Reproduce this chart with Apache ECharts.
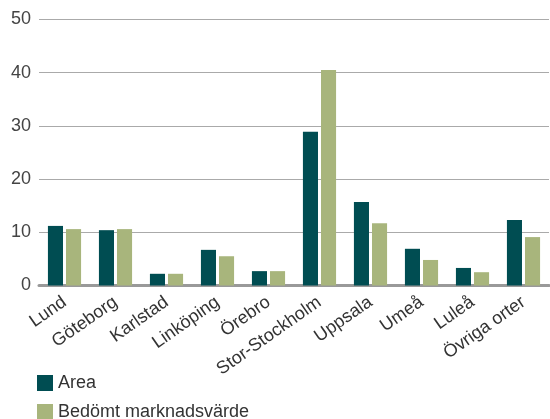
<!DOCTYPE html>
<html><head><meta charset="utf-8">
<script src="https://cdn.jsdelivr.net/npm/echarts@6/dist/echarts.min.js"></script>
<style>html,body{margin:0;padding:0;background:#fff}#c{width:550px;height:419px}</style>
</head><body><div id="c"></div>
<script>
const categories = ["Lund","Göteborg","Karlstad","Linköping","Örebro","Stor-Stockholm","Uppsala","Umeå","Luleå","Övriga orter"];
const areaValues = [11.2, 10.4, 2.2, 6.7, 2.7, 28.9, 15.7, 6.9, 3.3, 12.3];
const marketValues = [10.6, 10.6, 2.2, 5.5, 2.7, 40.5, 11.7, 4.8, 2.5, 9.1];
const yTicks = [0, 10, 20, 30, 40, 50];
const seriesNames = ["Area", "Bedömt marknadsvärde"];

const chart = echarts.init(document.getElementById('c'), null, {renderer: 'canvas'});
const font = "'Liberation Sans', Arial, sans-serif";
const legendBase = {
  left: 37, itemWidth: 16, itemHeight: 16, icon: 'rect', padding: 0,
  textStyle: {fontFamily: font, fontSize: 18, color: '#333'}
};
chart.setOption({
  animation: false,
  textStyle: {fontFamily: font},
  grid: {left: 39, right: 1, top: 19.5, height: 266, containLabel: false},
  legend: [
    Object.assign({}, legendBase, {top: 374, data: [seriesNames[0]]}),
    Object.assign({}, legendBase, {top: 403, data: [seriesNames[1]]})
  ],
  xAxis: {
    type: 'category', data: categories,
    axisLine: {show: true, lineStyle: {color: '#999', width: 3}},
    axisTick: {show: false},
    axisLabel: {rotate: 35, fontSize: 18, color: '#333', fontFamily: font, margin: 15, interval: 0}
  },
  yAxis: {
    type: 'value', min: yTicks[0], max: yTicks[yTicks.length - 1], interval: 10,
    axisLine: {show: false}, axisTick: {show: false},
    axisLabel: {fontSize: 18, color: '#444', fontFamily: font, margin: 8},
    splitLine: {lineStyle: {color: '#aaa', width: 1}}
  },
  series: [
    {name: seriesNames[0], type: 'bar', data: areaValues, itemStyle: {color: '#004d52'}, barGap: '20%', barCategoryGap: '35%'},
    {name: seriesNames[1], type: 'bar', data: marketValues, itemStyle: {color: '#a8b57c'}}
  ]
});
</script></body></html>
